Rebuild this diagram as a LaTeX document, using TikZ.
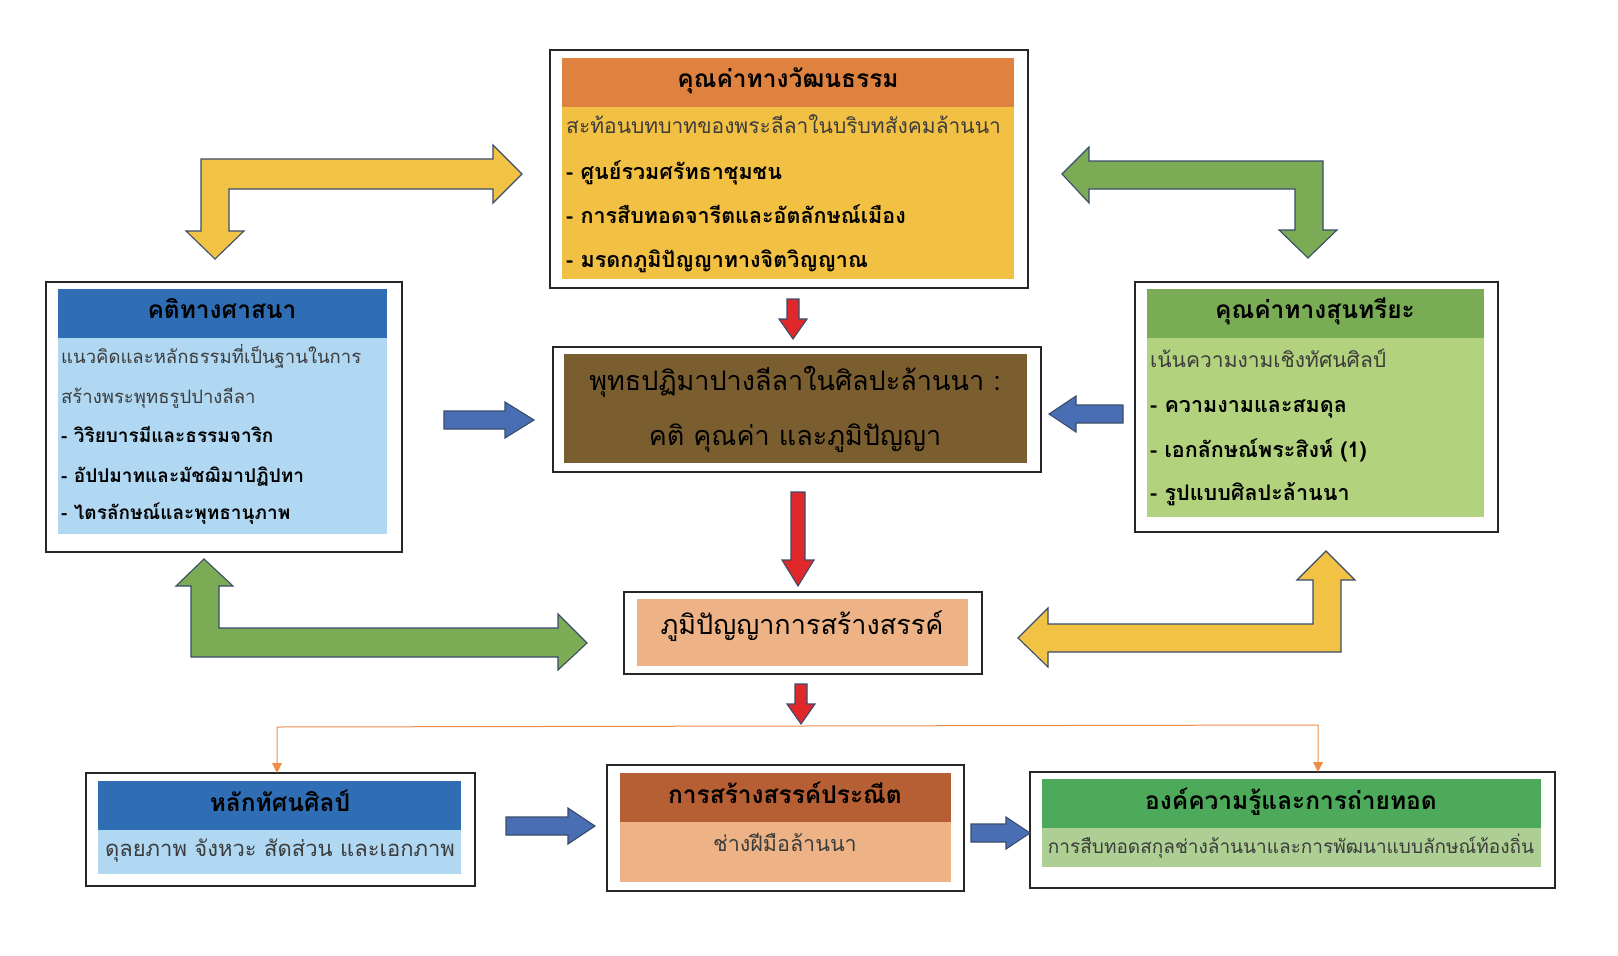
\documentclass[tikz,border=0pt]{standalone}
\usepackage{fontspec}
\newfontfamily\thai[Script=Thai]{Loma}
\definecolor{hdrOrange}{HTML}{E0823F}
\definecolor{bodyYellow}{HTML}{F2C043}
\definecolor{hdrBlue}{HTML}{2F6EB5}
\definecolor{bodyBlue}{HTML}{B0D8F2}
\definecolor{hdrGreen}{HTML}{7AAB55}
\definecolor{bodyGreen}{HTML}{B2D27E}
\definecolor{centerBrown}{HTML}{7A5E2F}
\definecolor{peach}{HTML}{EDB386}
\definecolor{hdrBurnt}{HTML}{B75F34}
\definecolor{hdrGreenB}{HTML}{4DAA5A}
\definecolor{bodyGreenB}{HTML}{AECF93}
\definecolor{arrYellow}{HTML}{F2C244}
\definecolor{arrGreen}{HTML}{7BAB55}
\definecolor{arrBlue}{HTML}{4A6EB4}
\definecolor{arrRed}{HTML}{E0282A}
\definecolor{arrEdge}{HTML}{3A4C6B}
\definecolor{lineOrange}{HTML}{ED8D4A}
\definecolor{subGray}{HTML}{3C3C3C}
\newcommand\boxrect[6]{%
  \pgfmathsetmacro\bw{#5-#3}\pgfmathsetmacro\bh{#6-#4}%
  \node[#2, anchor=north west, inner sep=0pt, outer sep=0pt,
        minimum width=\bw pt, minimum height=\bh pt] (#1) at (#3,#4) {};}
% horizontal block arrow: style, x start, x tip, y, shaft half, head half, head length (signed)
\newcommand\harrow[7]{%
  \pgfmathsetmacro\hx{#3-(#7)}%
  \draw[#1] (#2,#4-#5) -- (\hx,#4-#5) -- (\hx,#4-#6) -- (#3,#4)
    -- (\hx,#4+#6) -- (\hx,#4+#5) -- (#2,#4+#5) -- cycle;}
% vertical block arrow: style, y start, y tip, x, shaft half, head half, head length (signed)
\newcommand\varrow[7]{%
  \pgfmathsetmacro\vy{#3-(#7)}%
  \draw[#1] (#4-#5,#2) -- (#4-#5,\vy) -- (#4-#6,\vy) -- (#4,#3)
    -- (#4+#6,\vy) -- (#4+#5,\vy) -- (#4+#5,#2) -- cycle;}
\begin{document}
\begin{tikzpicture}[x=1pt,y=-1pt,
  frame/.style={draw=black!85, line width=1.3pt, fill=white},
  fillbox/.style={draw=none},
  txt/.style={inner sep=0pt, text height=0.75em, text depth=0.25em, font=\thai},
  ttl/.style={txt, font=\thai\bfseries\fontsize{24.5}{28}\selectfont, text=black},
  sub/.style={txt, anchor=west, font=\thai\fontsize{21}{25}\selectfont, text=subGray},
  bul/.style={txt, anchor=west, font=\thai\bfseries\fontsize{21.5}{25}\selectfont, text=black},
  subS/.style={txt, anchor=west, font=\thai\fontsize{18.5}{22}\selectfont, text=subGray},
  bulS/.style={txt, anchor=west, font=\thai\bfseries\fontsize{19}{23}\selectfont, text=black},
  big/.style={txt, font=\thai\fontsize{27}{31}\selectfont, text=black},
  blockarrow/.style={draw=arrEdge, line width=1.1pt, line join=miter},
  yarrow/.style={blockarrow, fill=arrYellow},
  garrow/.style={blockarrow, fill=arrGreen},
  barrow/.style={blockarrow, fill=arrBlue},
  rarrow/.style={blockarrow, fill=arrRed},
  oline/.style={draw=lineOrange, line width=1pt},
]
\useasboundingbox (0,0) rectangle (1618,956);
\fill[white] (0,0) rectangle (1618,956);

% ---------- top box: cultural value ----------
\boxrect{top}{frame}{550}{50}{1028}{288}
\boxrect{topH}{fillbox, fill=hdrOrange}{562}{58}{1014}{107}
\boxrect{topB}{fillbox, fill=bodyYellow}{562}{107}{1014}{279}
\node[ttl] (topT) at (788,85) {คุณค่าทางวัฒนธรรม};
\node[sub] (top1) at (566,131) {สะท้อนบทบาทของพระลีลาในบริบทสังคมล้านนา};
\node[bul] (top2) at (566,177) {- ศูนย์รวมศรัทธาชุมชน};
\node[bul] (top3) at (566,221) {- การสืบทอดจารีตและอัตลักษณ์เมือง};
\node[bul] (top4) at (566,265) {- มรดกภูมิปัญญาทางจิตวิญญาณ};

% ---------- left box: religious concept ----------
\boxrect{lft}{frame}{46}{282}{402}{552}
\boxrect{lftH}{fillbox, fill=hdrBlue}{58}{289}{387}{338}
\boxrect{lftB}{fillbox, fill=bodyBlue}{58}{338}{387}{534}
\node[ttl] (lftT) at (222,316) {คติทางศาสนา};
\node[subS] (lft1) at (61,361) {แนวคิดและหลักธรรมที่เป็นฐานในการ};
\node[subS] (lft2) at (61,401) {สร้างพระพุทธรูปปางลีลา};
\node[bulS] (lft3) at (61,440) {- วิริยบารมีและธรรมจาริก};
\node[bulS] (lft4) at (61,480) {- อัปปมาทและมัชฌิมาปฏิปทา};
\node[bulS] (lft5) at (61,517) {- ไตรลักษณ์และพุทธานุภาพ};

% ---------- right box: aesthetic value ----------
\boxrect{rgt}{frame}{1135}{282}{1498}{532}
\boxrect{rgtH}{fillbox, fill=hdrGreen}{1147}{289}{1484}{338}
\boxrect{rgtB}{fillbox, fill=bodyGreen}{1147}{338}{1484}{517}
\node[ttl] (rgtT) at (1315,316) {คุณค่าทางสุนทรียะ};
\node[sub] (rgt1) at (1150,365) {เน้นความงามเชิงทัศนศิลป์};
\node[bul] (rgt2) at (1150,410) {- ความงามและสมดุล};
\node[bul] (rgt3) at (1150,455) {- เอกลักษณ์พระสิงห์ (1)};
\node[bul] (rgt4) at (1150,498) {- รูปแบบศิลปะล้านนา};

% ---------- centre box ----------
\boxrect{ctr}{frame}{553}{347}{1041}{472}
\boxrect{ctrF}{fillbox, fill=centerBrown}{564}{354}{1027}{463}
\node[big] (ctr1) at (795,388) {พุทธปฏิมาปางลีลาในศิลปะล้านนา :};
\node[big] (ctr2) at (795,443) {คติ คุณค่า และภูมิปัญญา};

% ---------- creative wisdom ----------
\boxrect{crt}{frame}{624}{592}{982}{674}
\boxrect{crtF}{fillbox, fill=peach}{637}{599}{968}{666}
\node[big] (crtT) at (802,632) {ภูมิปัญญาการสร้างสรรค์};

% ---------- bottom-left ----------
\boxrect{bl}{frame}{86}{773}{475}{886}
\boxrect{blH}{fillbox, fill=hdrBlue}{98}{781}{461}{830}
\boxrect{blB}{fillbox, fill=bodyBlue}{98}{830}{461}{874}
\node[ttl] (blT) at (280,809) {หลักทัศนศิลป์};
\node[txt, font=\thai\fontsize{22}{26}\selectfont, text=subGray] (blX) at (280,854) {ดุลยภาพ จังหวะ สัดส่วน และเอกภาพ};

% ---------- bottom-middle ----------
\boxrect{bm}{frame}{607}{765}{964}{891}
\boxrect{bmH}{fillbox, fill=hdrBurnt}{620}{773}{951}{822}
\boxrect{bmB}{fillbox, fill=peach}{620}{822}{951}{882}
\node[ttl] (bmT) at (785,801) {การสร้างสรรค์ประณีต};
\node[txt, font=\thai\fontsize{21.5}{25}\selectfont, text=subGray] (bmX) at (785,849) {ช่างฝีมือล้านนา};

% ---------- bottom-right ----------
\boxrect{br}{frame}{1030}{772}{1555}{888}
\boxrect{brH}{fillbox, fill=hdrGreenB}{1042}{779}{1541}{828}
\boxrect{brB}{fillbox, fill=bodyGreenB}{1042}{828}{1541}{867}
\node[ttl] (brT) at (1291,807) {องค์ความรู้และการถ่ายทอด};
\node[txt, font=\thai\fontsize{19}{23}\selectfont, text=subGray] (brX) at (1291,851) {การสืบทอดสกุลช่างล้านนาและการพัฒนาแบบลักษณ์ท้องถิ่น};

% ---------- bent double arrows ----------
\draw[yarrow] (215,259) -- (244,231) -- (229,231) -- (229,189) -- (493,189) -- (493,203)
  -- (522,174) -- (493,145) -- (493,159) -- (201,159) -- (201,231) -- (186,231) -- cycle;
\draw[garrow] (1062,174) -- (1089,147) -- (1089,161) -- (1323,161) -- (1323,230) -- (1337,230)
  -- (1308,258) -- (1279,230) -- (1295,230) -- (1295,189) -- (1089,189) -- (1089,203) -- cycle;
\draw[garrow] (204,559) -- (233,586) -- (219,586) -- (219,628) -- (558,628) -- (558,614)
  -- (587,643) -- (558,670) -- (558,657) -- (191,657) -- (191,586) -- (176,586) -- cycle;
\draw[yarrow] (1018,638) -- (1048,608) -- (1048,624) -- (1313,624) -- (1313,580) -- (1297,580)
  -- (1326,551) -- (1355,580) -- (1341,580) -- (1341,652) -- (1048,652) -- (1048,667) -- cycle;

% ---------- straight block arrows ----------
\varrow{rarrow}{299}{339}{793}{6}{14}{20}
\varrow{rarrow}{492}{586}{798}{7}{16}{26}
\varrow{rarrow}{684}{724}{801}{6}{14}{20}
\harrow{barrow}{444}{534}{420}{9}{18}{29}
\harrow{barrow}{1123}{1049}{414}{9}{18}{-27}
\harrow{barrow}{506}{595}{826}{9}{18}{27}
\harrow{barrow}{971}{1030}{833}{9}{16}{24}

% ---------- orange distribution line ----------
\coordinate (junc) at (801,726);
\coordinate (blIn) at (277,773);
\coordinate (brIn) at (1318,772);
\draw[oline] (junc) -- (277,727) -- (277,764);
\draw[oline] (junc) -- (1318,725) -- (1318,763);
\fill[lineOrange] (blIn) -- ++(-5,-10) -- ++(10,0) -- cycle;
\fill[lineOrange] (brIn) -- ++(-5,-10) -- ++(10,0) -- cycle;
\end{tikzpicture}
\end{document}
